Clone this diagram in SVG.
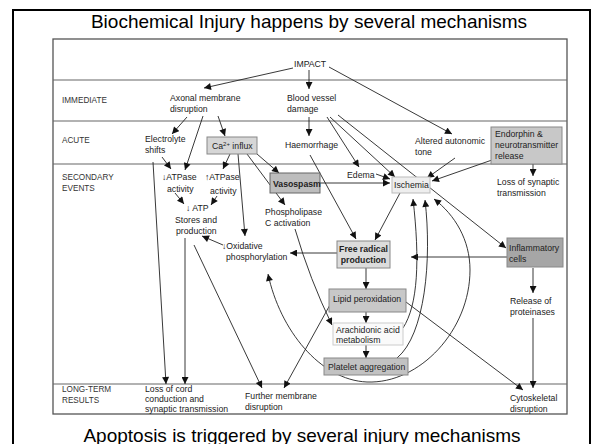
<svg xmlns="http://www.w3.org/2000/svg" width="604" height="444" viewBox="0 0 604 444">
<style>
text{font-family:"Liberation Sans",Arial,sans-serif;fill:#222}
.t{font-size:8.7px}
.lab{font-size:8.2px;fill:#333}
.b{font-weight:bold}
.ttl{font-size:19px;fill:#000}
.c{fill:none;stroke:#222;stroke-width:0.9}
.band{stroke:#666;stroke-width:1.2}
.box{stroke:#888;stroke-width:1}
</style>
<defs>
<marker id="ah" viewBox="0 0 10 10" refX="10" refY="5" markerWidth="8" markerHeight="7" markerUnits="userSpaceOnUse" orient="auto-start-reverse">
<path d="M0,0 L10,5 L0,10 z" fill="#111"/>
</marker>
</defs>
<rect x="0" y="0" width="604" height="444" fill="#fff"/>
<rect x="13" y="10" width="577" height="445" fill="none" stroke="#000" stroke-width="2"/>
<text class="ttl" x="309" y="28" text-anchor="middle">Biochemical Injury happens by several mechanisms</text>
<text class="ttl" x="302" y="442" text-anchor="middle">Apoptosis is triggered by several injury mechanisms</text>
<g id="frame">
<rect x="53" y="39" width="514" height="375" fill="none" stroke="#555" stroke-width="1.3"/>
<line class="band" x1="53" y1="80" x2="567" y2="80"/>
<line class="band" x1="53" y1="121" x2="567" y2="121"/>
<line class="band" x1="53" y1="164" x2="567" y2="164"/>
<line class="band" x1="53" y1="384" x2="567" y2="384"/>
<text class="lab" x="62" y="103">IMMEDIATE</text>
<text class="lab" x="62" y="143">ACUTE</text>
<text class="lab" x="62" y="180">SECONDARY</text>
<text class="lab" x="62" y="191">EVENTS</text>
<text class="lab" x="62" y="392">LONG-TERM</text>
<text class="lab" x="62" y="403">RESULTS</text>
</g>
<g id="connectors" class="c" marker-end="url(#ah)">
<path class="c" d="M293,68 L204,88" marker-end="url(#ah)"/>
<path class="c" d="M309,70 L309,89" marker-end="url(#ah)"/>
<path class="c" d="M329,67 L452,134" marker-end="url(#ah)"/>
<path class="c" d="M187,117 L172,134" marker-end="url(#ah)"/>
<path class="c" d="M203,116 L185,170" marker-end="url(#ah)"/>
<path class="c" d="M218,116 L225,136" marker-end="url(#ah)"/>
<path class="c" d="M309,117 L309,136" marker-end="url(#ah)"/>
<path class="c" d="M327,117 L359,167" marker-end="url(#ah)"/>
<path class="c" d="M330,117 L395,177" marker-end="url(#ah)"/>
<path class="c" d="M338,115 L506,248" marker-end="url(#ah)"/>
<path class="c" d="M455,158 L427,178" marker-end="url(#ah)"/>
<path class="c" d="M492,160 L432,181" marker-end="url(#ah)"/>
<path class="c" d="M533,164 L533,176" marker-end="url(#ah)"/>
<path class="c" d="M162,157 L171,169" marker-end="url(#ah)"/>
<path class="c" d="M153,162 L166,384" marker-end="url(#ah)"/>
<path class="c" d="M230,154 L223,169" marker-end="url(#ah)"/>
<path class="c" d="M238,154 L245,236" marker-end="url(#ah)"/>
<path class="c" d="M247,154 L285,205" marker-end="url(#ah)"/>
<path class="c" d="M257,154 L279,173" marker-end="url(#ah)"/>
<path class="c" d="M310,155 L356,239" marker-end="url(#ah)"/>
<path class="c" d="M376,174 L390,179" marker-end="url(#ah)"/>
<path class="c" d="M320,183 L390,183" marker-end="url(#ah)"/>
<path class="c" d="M400,193 L375,240" marker-end="url(#ah)"/>
<path class="c" d="M175,193 L184,204" marker-end="url(#ah)"/>
<path class="c" d="M217,196 L211,205" marker-end="url(#ah)"/>
<path class="c" d="M223,245 L202,236" marker-end="url(#ah)"/>
<path class="c" d="M337,253 L290,253" marker-end="url(#ah)"/>
<path class="c" d="M507,257 L411,257" marker-end="url(#ah)"/>
<path class="c" d="M185,238 L185,384" marker-end="url(#ah)"/>
<path class="c" d="M194,245 L262,388" marker-end="url(#ah)"/>
<path class="c" d="M295,229 Q310,280 332,325" marker-end="url(#ah)"/>
<path class="c" d="M366,268 L366,289" marker-end="url(#ah)"/>
<path class="c" d="M366,312 L366,323" marker-end="url(#ah)"/>
<path class="c" d="M366,345 L366,358" marker-end="url(#ah)"/>
<path class="c" d="M406,302 L523,390" marker-end="url(#ah)"/>
<path class="c" d="M331,303 L284,388" marker-end="url(#ah)"/>
<path class="c" d="M533,268 L533,293" marker-end="url(#ah)"/>
<path class="c" d="M533,318 L533,388" marker-end="url(#ah)"/>
<path class="c" d="M403,328 C418,305 420,260 413,199" marker-end="url(#ah)"/>
<path class="c" d="M397,358 C425,335 432,260 425,200" marker-end="url(#ah)"/>
<path class="c" d="M268,274 C280,330 320,380 367,382 C420,384 470,330 470,270 C470,240 455,215 434,199" marker-start="url(#ah)" marker-end="url(#ah)"/>
</g>
<g id="impact"><text class="t" x="294" y="67">IMPACT</text></g>
<g id="axonal"><text class="t" x="170" y="101">Axonal membrane</text><text class="t" x="170" y="112">disruption</text></g>
<g id="bloodvessel"><text class="t" x="287" y="101">Blood vessel</text><text class="t" x="287" y="112">damage</text></g>
<g id="electrolyte"><text class="t" x="145" y="142">Electrolyte</text><text class="t" x="145" y="153">shifts</text></g>
<g id="ca"><rect class="box" x="207" y="137" width="50" height="17" fill="#d6d6d6"/><text class="t" x="212" y="149">Ca<tspan font-size="6" dy="-3">2+</tspan><tspan dy="3"> influx</tspan></text></g>
<g id="haemorrhage"><text class="t" x="285" y="148">Haemorrhage</text></g>
<g id="altered"><text class="t" x="415" y="144">Altered autonomic</text><text class="t" x="415" y="155">tone</text></g>
<g id="endorphin"><rect class="box" x="491" y="127" width="71" height="37" fill="#c8c8c8"/><text class="t" x="495" y="137">Endorphin &amp;</text><text class="t" x="495" y="148">neurotransmitter</text><text class="t" x="495" y="159">release</text></g>
<g id="atpase1"><text class="t" x="162" y="180">↓ATPase</text><text class="t" x="167" y="192">activity</text></g>
<g id="atpase2"><text class="t" x="205" y="180">↑ATPase</text><text class="t" x="210" y="194">activity</text></g>
<g id="atp"><text class="t" x="186" y="211">↓ ATP</text><text class="t" x="175" y="223">Stores and</text><text class="t" x="176" y="234">production</text></g>
<g id="vasospasm"><rect x="270" y="173" width="50" height="20" fill="#bdbdbd" stroke="#666" stroke-width="1"/><text class="t b" x="273" y="187">Vasospasm</text></g>
<g id="edema"><text class="t" x="347" y="178">Edema</text></g>
<g id="ischemia"><rect x="392" y="177" width="38" height="16" fill="#eee" stroke="#bbb" stroke-width="1"/><text class="t" x="394" y="188">Ischemia</text></g>
<g id="losssynaptic"><text class="t" x="497" y="185">Loss of synaptic</text><text class="t" x="497" y="196">transmission</text></g>
<g id="phospholipase"><text class="t" x="265" y="215">Phospholipase</text><text class="t" x="265" y="226">C activation</text></g>
<g id="oxidative"><text class="t" x="222" y="249">↓Oxidative</text><text class="t" x="226" y="260">phosphorylation</text></g>
<g id="freeradical"><rect class="box" x="337" y="241" width="53" height="27" fill="#dcdcdc"/><text class="t b" x="363.5" y="252" text-anchor="middle">Free radical</text><text class="t b" x="363.5" y="263" text-anchor="middle">production</text></g>
<g id="inflammatory"><rect x="507" y="238" width="56" height="29" fill="#a6a6a6" stroke="#888" stroke-width="1"/><text class="t" x="509" y="251">Inflammatory</text><text class="t" x="509" y="262">cells</text></g>
<g id="lipid"><rect class="box" x="329" y="289" width="77" height="23" fill="#c8c8c8"/><text class="t" x="333" y="302">Lipid peroxidation</text></g>
<g id="release"><text class="t" x="510" y="304">Release of</text><text class="t" x="510" y="315">proteinases</text></g>
<g id="arachidonic"><rect x="333" y="323" width="70" height="22" fill="#fafafa" stroke="#ccc" stroke-width="1"/><text class="t" x="336" y="333">Arachidonic acid</text><text class="t" x="336" y="343">metabolism</text></g>
<g id="platelet"><rect class="box" x="324" y="358" width="84" height="17" fill="#c2c2c2"/><text class="t" x="328" y="370">Platelet aggregation</text></g>
<g id="losscord"><text class="t" x="145" y="392">Loss of cord</text><text class="t" x="145" y="402">conduction and</text><text class="t" x="145" y="412">synaptic transmission</text></g>
<g id="furthermembrane"><text class="t" x="245" y="399">Further membrane</text><text class="t" x="245" y="410">disruption</text></g>
<g id="cytoskeletal"><text class="t" x="510" y="401">Cytoskeletal</text><text class="t" x="510" y="412">disruption</text></g>
</svg>
